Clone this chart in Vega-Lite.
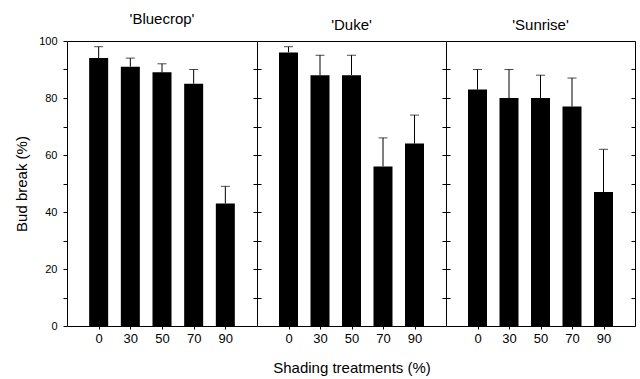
{
  "$schema": "https://vega.github.io/schema/vega-lite/v6.json",
  "padding": {"left": 14, "top": 11, "right": 5, "bottom": 5},
  "data": {"values": [
    {"cultivar": "Bluecrop", "shade": 0, "mean": 94, "upper": 98},
    {"cultivar": "Bluecrop", "shade": 30, "mean": 91, "upper": 94},
    {"cultivar": "Bluecrop", "shade": 50, "mean": 89, "upper": 92},
    {"cultivar": "Bluecrop", "shade": 70, "mean": 85, "upper": 90},
    {"cultivar": "Bluecrop", "shade": 90, "mean": 43, "upper": 49},
    {"cultivar": "Duke", "shade": 0, "mean": 96, "upper": 98},
    {"cultivar": "Duke", "shade": 30, "mean": 88, "upper": 95},
    {"cultivar": "Duke", "shade": 50, "mean": 88, "upper": 95},
    {"cultivar": "Duke", "shade": 70, "mean": 56, "upper": 66},
    {"cultivar": "Duke", "shade": 90, "mean": 64, "upper": 74},
    {"cultivar": "Sunrise", "shade": 0, "mean": 83, "upper": 90},
    {"cultivar": "Sunrise", "shade": 30, "mean": 80, "upper": 90},
    {"cultivar": "Sunrise", "shade": 50, "mean": 80, "upper": 88},
    {"cultivar": "Sunrise", "shade": 70, "mean": 77, "upper": 87},
    {"cultivar": "Sunrise", "shade": 90, "mean": 47, "upper": 62}
  ]},
  "config": {
    "font": "Liberation Sans",
    "view": {"stroke": "black", "strokeWidth": 1},
    "axis": {"grid": false, "domain": false, "tickColor": "black", "labelColor": "black", "titleColor": "black", "titleFontWeight": "normal", "titleFontSize": 15},
    "title": {"fontSize": 15, "fontWeight": "normal", "color": "black", "offset": 8},
    "style": {"group-title": {"fontSize": 15, "fontWeight": "normal", "color": "black"}}
  },
  "spacing": 0,
  "bounds": "flush",
  "hconcat": [
    {
      "width": 190, "height": 285,
      "title": {"text": "'Bluecrop'", "fontWeight": "normal", "fontSize": 15},
      "transform": [{"filter": "datum.cultivar === 'Bluecrop'"}],
      "encoding": {"x": {"field": "shade", "type": "ordinal", "scale": {"type": "point", "padding": 1}, "axis": {"title": null, "labelAngle": 0, "labelFontSize": 13, "tickSize": 3, "labelPadding": 3}}},
      "layer": [
        {"mark": {"type": "rule", "color": "black"}, "encoding": {"y": {"field": "mean", "type": "quantitative", "scale": {"domain": [0, 100]}, "axis": {"orient": "left", "values": [0,10,20,30,40,50,60,70,80,90,100], "labelExpr": "datum.value % 20 === 0 ? datum.label : ''", "tickSize": 4, "labelFontSize": 11, "labelPadding": 6, "title": "Bud break (%)", "titlePadding": 9}}, "y2": {"field": "upper"}}},
        {"mark": {"type": "tick", "color": "black", "size": 9, "thickness": 1}, "encoding": {"y": {"field": "upper", "type": "quantitative", "axis": {"orient": "right", "values": [10,20,30,40,50,60,70,80,90], "tickSize": -4, "labels": false, "title": null}}}},
        {"mark": {"type": "bar", "color": "black", "width": 19}, "encoding": {"y": {"field": "mean", "type": "quantitative", "axis": null}}}
      ],
      "resolve": {"axis": {"y": "independent"}}
    },
    {
      "width": 189, "height": 285,
      "title": {"text": "'Duke'", "fontWeight": "normal", "fontSize": 15},
      "transform": [{"filter": "datum.cultivar === 'Duke'"}],
      "encoding": {"x": {"field": "shade", "type": "ordinal", "scale": {"type": "point", "padding": 1}, "axis": {"title": "Shading treatments (%)", "titlePadding": 15, "labelAngle": 0, "labelFontSize": 13, "tickSize": 3, "labelPadding": 3}}},
      "layer": [
        {"mark": {"type": "rule", "color": "black"}, "encoding": {"y": {"field": "mean", "type": "quantitative", "scale": {"domain": [0, 100]}, "axis": {"orient": "left", "values": [10,20,30,40,50,60,70,80,90], "tickSize": -4, "labels": false, "title": null}}, "y2": {"field": "upper"}}},
        {"mark": {"type": "tick", "color": "black", "size": 9, "thickness": 1}, "encoding": {"y": {"field": "upper", "type": "quantitative", "axis": {"orient": "right", "values": [10,20,30,40,50,60,70,80,90], "tickSize": -4, "labels": false, "title": null}}}},
        {"mark": {"type": "bar", "color": "black", "width": 19}, "encoding": {"y": {"field": "mean", "type": "quantitative", "axis": null}}}
      ],
      "resolve": {"axis": {"y": "independent"}}
    },
    {
      "width": 189, "height": 285,
      "title": {"text": "'Sunrise'", "fontWeight": "normal", "fontSize": 15},
      "transform": [{"filter": "datum.cultivar === 'Sunrise'"}],
      "encoding": {"x": {"field": "shade", "type": "ordinal", "scale": {"type": "point", "padding": 1}, "axis": {"title": null, "labelAngle": 0, "labelFontSize": 13, "tickSize": 3, "labelPadding": 3}}},
      "layer": [
        {"mark": {"type": "rule", "color": "black"}, "encoding": {"y": {"field": "mean", "type": "quantitative", "scale": {"domain": [0, 100]}, "axis": {"orient": "left", "values": [10,20,30,40,50,60,70,80,90], "tickSize": -4, "labels": false, "title": null}}, "y2": {"field": "upper"}}},
        {"mark": {"type": "tick", "color": "black", "size": 9, "thickness": 1}, "encoding": {"y": {"field": "upper", "type": "quantitative", "axis": {"orient": "right", "values": [10,20,30,40,50,60,70,80,90], "tickSize": -4, "labels": false, "title": null}}}},
        {"mark": {"type": "bar", "color": "black", "width": 19}, "encoding": {"y": {"field": "mean", "type": "quantitative", "axis": null}}}
      ],
      "resolve": {"axis": {"y": "independent"}}
    }
  ]
}
